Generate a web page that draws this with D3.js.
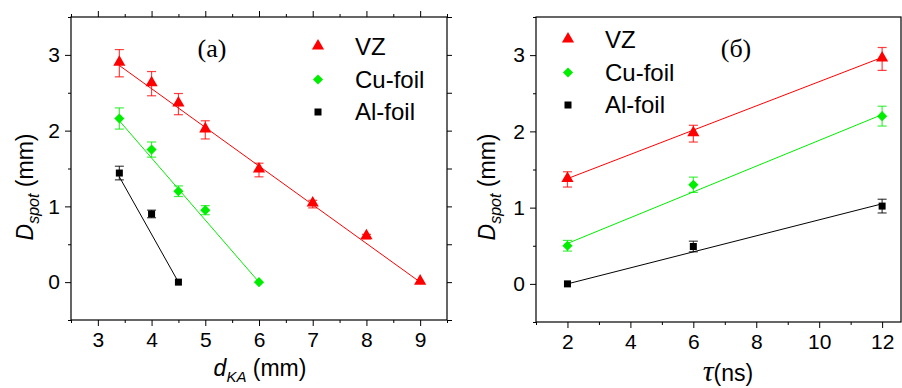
<!DOCTYPE html>
<html>
<head>
<meta charset="utf-8">
<style>
body { margin: 0; background: #fff; }
svg text { font-family: "Liberation Sans", Arial, sans-serif; }
</style>
</head>
<body>
<svg width="902" height="388"></svg>
<script src="https://d3js.org/d3.v7.min.js"></script>
<script>
// panel (a): spot size vs cathode-anode gap
var seriesNames = ["VZ", "Cu-foil", "Al-foil"];
var colors = ["#ff0000", "#00ee00", "#000000"];

var dkaVZ = [3.4, 4, 4.5, 5, 6, 7, 8, 9];
var spotVZa = [2.89, 2.62, 2.35, 2.01, 1.48, 1.03, 0.60, 0];
var errVZa = [0.18, 0.16, 0.14, 0.12, 0.09, 0.05, 0.03, 0];
var dkaCu = [3.4, 4, 4.5, 5, 6];
var spotCua = [2.16, 1.75, 1.20, 0.95, 0];
var errCua = [0.14, 0.10, 0.07, 0.06, 0];
var dkaAl = [3.4, 4, 4.5];
var spotAla = [1.44, 0.90, 0];
var errAla = [0.09, 0.05, 0];
// fitted lines, endpoints
var fitXa = [[3.4, 9], [3.4, 6], [3.4, 4.5]];
var fitYa = [[2.86, 0], [2.13, 0], [1.39, 0]];

// panel (б): spot size vs pulse duration
var tau = [2, 6, 12];
var spotVZb = [1.37, 1.97, 2.95];
var errVZb = [0.10, 0.11, 0.15];
var spotCub = [0.50, 1.30, 2.20];
var errCub = [0.07, 0.10, 0.13];
var spotAlb = [0, 0.49, 1.02];
var errAlb = [0, 0.07, 0.09];
var fitXb = [[2, 12], [2, 12], [2, 12]];
var fitYb = [[1.38, 2.97], [0.53, 2.22], [0, 1.05]];

var ticksXa = [3, 4, 5, 6, 7, 8, 9];
var ticksXb = [2, 4, 6, 8, 10, 12];
var ticksY = [0, 1, 2, 3];

var svg = d3.select("svg");
var fmt = d3.format("d");

function marker(g, type, x, y, color) {
  if (type == 0) {
    g.append("path").attr("d", d3.symbol(d3.symbolTriangle, 64)())
      .attr("transform", "translate(" + x + "," + (y - 1) + ")").attr("fill", color);
  } else if (type == 1) {
    g.append("rect").attr("x", -4.5).attr("y", -4.5).attr("width", 9).attr("height", 9)
      .attr("transform", "translate(" + x + "," + y + ") rotate(45) scale(0.8)").attr("fill", color);
  } else {
    g.append("rect").attr("x", x - 3.5).attr("y", y - 3.5).attr("width", 7).attr("height", 7).attr("fill", color);
  }
}

function drawPanel(p) {
  var x = d3.scaleLinear().domain(p.xdom).range(p.xr);
  var y = d3.scaleLinear().domain([-0.5, 3.5]).range(p.yr);
  var g = svg.append("g");

  // axes with major + minor ticks
  g.append("g").attr("transform", "translate(0," + p.yr[0] + ")")
    .call(d3.axisBottom(x).tickValues(p.minorX).tickSize(3).tickFormat(""));
  g.append("g").attr("transform", "translate(0," + p.yr[0] + ")")
    .call(d3.axisBottom(x).tickValues(p.ticksX).tickSize(6).tickPadding(6).tickFormat(fmt))
    .selectAll("text").style("font-size", "21px").attr("fill", "#000");
  g.append("g").attr("transform", "translate(" + p.xr[0] + ",0)")
    .call(d3.axisLeft(y).tickValues([-0.5, 0.5, 1.5, 2.5, 3.5]).tickSize(3).tickFormat(""));
  g.append("g").attr("transform", "translate(" + p.xr[0] + ",0)")
    .call(d3.axisLeft(y).tickValues(ticksY).tickSize(6).tickPadding(5).tickFormat(fmt))
    .selectAll("text").style("font-size", "21px").attr("fill", "#000");
  if (p.mirror) {
    g.append("g").attr("transform", "translate(0," + p.yr[1] + ")")
      .call(d3.axisTop(x).tickValues(p.minorX).tickSize(3).tickFormat(""));
    g.append("g").attr("transform", "translate(0," + p.yr[1] + ")")
      .call(d3.axisTop(x).tickValues(p.ticksX).tickSize(6).tickFormat(""));
    g.append("g").attr("transform", "translate(" + p.xr[1] + ",0)")
      .call(d3.axisRight(y).tickValues([-0.5, 0, 0.5, 1, 1.5, 2, 2.5, 3, 3.5]).tickSize(5).tickFormat(""));
  }
  g.selectAll(".domain").remove();
  g.append("rect").attr("x", p.xr[0]).attr("y", p.yr[1])
    .attr("width", p.xr[1] - p.xr[0]).attr("height", p.yr[0] - p.yr[1])
    .attr("fill", "none").attr("stroke", "#000").attr("stroke-width", 1.2);

  // fit lines
  var line = d3.line().x(function(d) { return x(d[0]); }).y(function(d) { return y(d[1]); });
  p.series.forEach(function(s, i) {
    g.append("path").datum(d3.zip(p.fitX[i], p.fitY[i])).attr("d", line)
      .attr("fill", "none").attr("stroke", colors[i]).attr("stroke-width", 1);
  });

  // error bars and markers
  p.series.forEach(function(s, i) {
    s.x.forEach(function(xv, j) {
      var e = s.err[j];
      if (e > 0) {
        var px = x(xv), y0 = y(s.y[j] - e), y1 = y(s.y[j] + e);
        var eb = g.append("g").attr("stroke", colors[i]).attr("stroke-opacity", 0.75).attr("stroke-width", 1.2);
        eb.append("line").attr("x1", px).attr("x2", px).attr("y1", y0).attr("y2", y1);
        eb.append("line").attr("x1", px - 4.5).attr("x2", px + 4.5).attr("y1", y0).attr("y2", y0);
        eb.append("line").attr("x1", px - 4.5).attr("x2", px + 4.5).attr("y1", y1).attr("y2", y1);
      }
      marker(g, i, x(xv), y(s.y[j]), colors[i]);
    });
  });

  // legend
  seriesNames.forEach(function(n, i) {
    var ly = p.legY + i * 32.5;
    marker(g, i, p.legX, ly, colors[i]);
    g.append("text").attr("x", p.legX + 37).attr("y", ly + 8).style("font-size", "24px").text(n);
  });

  // panel label
  g.append("text").attr("x", p.labX).attr("y", 57).attr("text-anchor", "middle")
    .style("font-family", "'Liberation Serif', 'Times New Roman', serif").style("font-size", "26px")
    .text(p.label);

  // y title
  var yt = g.append("text").attr("transform", "translate(" + p.yTitleX + "," + p.yTitleY + ") rotate(-90)")
    .attr("text-anchor", "middle").style("font-size", "23px");
  yt.append("tspan").style("font-style", "italic").text("D");
  yt.append("tspan").style("font-style", "italic").style("font-size", "16px").attr("dy", 6).text("spot");
  yt.append("tspan").attr("dy", -6).text(" (mm)");

  return g;
}

var ga = drawPanel({
  xdom: [2.5, 9.5], xr: [71, 447], yr: [320, 17],
  ticksX: ticksXa, minorX: [2.5, 3.5, 4.5, 5.5, 6.5, 7.5, 8.5, 9.5], mirror: true,
  series: [{x: dkaVZ, y: spotVZa, err: errVZa}, {x: dkaCu, y: spotCua, err: errCua}, {x: dkaAl, y: spotAla, err: errAla}],
  fitX: fitXa, fitY: fitYa,
  legX: 318, legY: 47, label: "(a)", labX: 212, yTitleX: 33, yTitleY: 187
});
var xt = ga.append("text").attr("x", 260).attr("y", 376).attr("text-anchor", "middle").style("font-size", "23px");
xt.append("tspan").style("font-style", "italic").text("d");
xt.append("tspan").style("font-style", "italic").style("font-size", "15px").attr("dy", 6).text("KA");
xt.append("tspan").attr("dy", -6).text(" (mm)");

var gb = drawPanel({
  xdom: [1, 12.6], xr: [536, 901], yr: [322, 17],
  ticksX: ticksXb, minorX: [1, 3, 5, 7, 9, 11], mirror: false,
  series: [{x: tau, y: spotVZb, err: errVZb}, {x: tau, y: spotCub, err: errCub}, {x: tau, y: spotAlb, err: errAlb}],
  fitX: fitXb, fitY: fitYb,
  legX: 568, legY: 40, label: "(б)", labX: 736, yTitleX: 495, yTitleY: 187
});
var tt = gb.append("text").attr("x", 728).attr("y", 381).attr("text-anchor", "middle").style("font-size", "23px");
tt.append("tspan").style("font-family", "'Liberation Serif', serif").style("font-style", "italic").style("font-size", "30px").text("τ");
tt.append("tspan").text("(ns)");
</script>
</body>
</html>
